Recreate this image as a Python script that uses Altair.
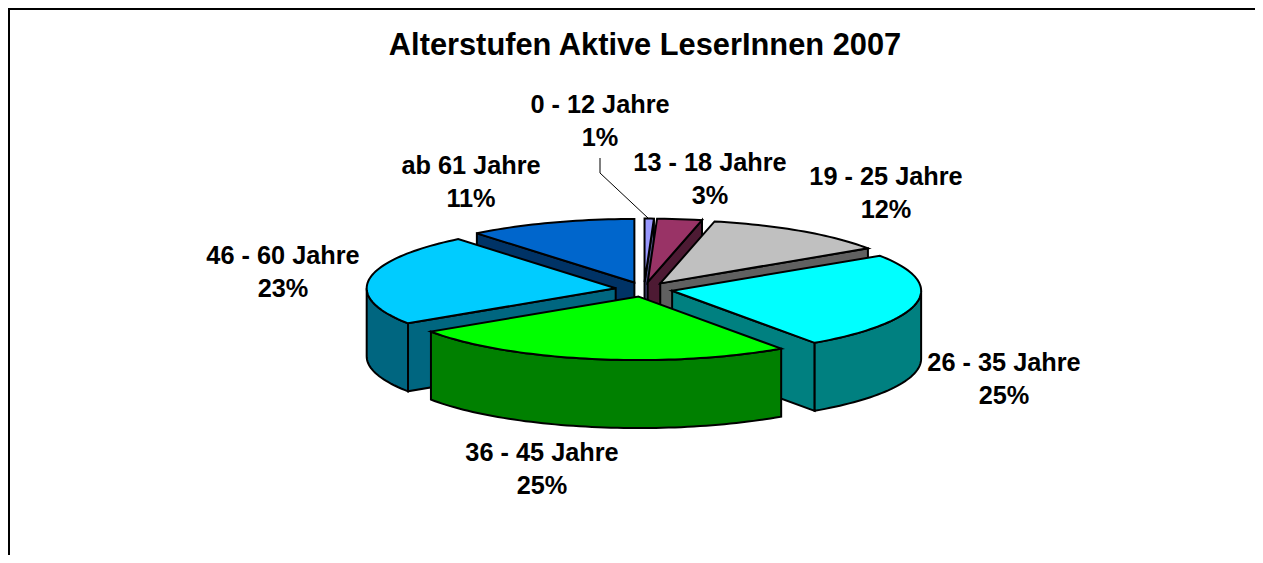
import numpy as np
import pandas as pd
import altair as alt

# Values (percent, unrounded estimates behind the printed labels)
categories = ["0 - 12 Jahre", "13 - 18 Jahre", "19 - 25 Jahre", "26 - 35 Jahre",
              "36 - 45 Jahre", "46 - 60 Jahre", "ab 61 Jahre"]
shares = [0.6, 2.9, 12.2, 24.6, 25.4, 23.4, 10.9]
top_colors = ["#9999FF", "#993366", "#C0C0C0", "#00FFFF", "#00FF00", "#00CCFF", "#0066CC"]
wall_colors = ["#4D4D80", "#4D1A33", "#606060", "#008080", "#008000", "#006680", "#003366"]
paint_order = [6, 0, 1, 2, 5, 3, 4]
label_x = [600, 710, 886, 1004, 542, 283, 471]
label_y = [105, 163, 177, 363, 453, 256, 166]
title_text = "Alterstufen Aktive LeserInnen 2007"
leader_x = [600, 600, 648]
leader_y = [158, 173, 218]

W, H = 1247, 547
CX, CY, A, B, DEPTH, EXPLODE = 644, 289.4, 249, 63.5, 68, 0.115
OX, OY = 8, 8   # page offset of the chart

xs = alt.Scale(domain=[OX, OX + W], range=[0, W])
ys = alt.Scale(domain=[OY, OY + H], range=[0, H])


def polygon(px, py, fill):
    df = pd.DataFrame({"px": px, "py": py, "i": range(len(px))})
    return alt.Chart(df).mark_line(
        interpolate="linear-closed", fill=fill, stroke="black", strokeWidth=2,
        strokeJoin="miter",
    ).encode(
        x=alt.X("px:Q", scale=xs, axis=None),
        y=alt.Y("py:Q", scale=ys, axis=None),
        order="i:Q",
    )


edges = np.concatenate([[0], np.cumsum(shares)]) / 100 * 2 * np.pi
layers = []
for k in paint_order:
    t1, t2 = edges[k], edges[k + 1]
    tm = (t1 + t2) / 2
    ax = CX + EXPLODE * A * np.sin(tm)
    ay = CY - EXPLODE * B * np.cos(tm)
    n = max(4, int((t2 - t1) * 40))
    ts = np.linspace(t1, t2, n)
    ex = ax + A * np.sin(ts)
    ey = ay - B * np.cos(ts)
    # radial wall that faces the viewer
    for t, visible in ((t1, np.sin(t1) < 0), (t2, np.sin(t2) > 0)):
        if visible:
            rx = ax + A * np.sin(t)
            ry = ay - B * np.cos(t)
            layers.append(polygon([ax, rx, rx, ax], [ay, ry, ry + DEPTH, ay + DEPTH], wall_colors[k]))
    # outer wall for the part of the rim at the front
    lo, hi = max(t1, np.pi / 2), min(t2, 3 * np.pi / 2)
    if hi > lo:
        tw = np.linspace(lo, hi, max(4, int((hi - lo) * 40)))
        wx = ax + A * np.sin(tw)
        wy = ay - B * np.cos(tw)
        layers.append(polygon(np.r_[wx, wx[::-1]], np.r_[wy, wy[::-1] + DEPTH], wall_colors[k]))
    # top face
    layers.append(polygon(np.r_[ax, ex], np.r_[ay, ey], top_colors[k]))

# frame on top and left
frame_h = pd.DataFrame({"px": [OX, OX + W], "py": [OY + 1, OY + 1]})
frame_v = pd.DataFrame({"px": [OX + 1, OX + 1], "py": [OY, OY + H]})
for f in (frame_h, frame_v):
    layers.append(alt.Chart(f).mark_line(color="black", strokeWidth=2).encode(
        x=alt.X("px:Q", scale=xs, axis=None), y=alt.Y("py:Q", scale=ys, axis=None)))

# leader line of the 1% label
leader = pd.DataFrame({"px": leader_x, "py": leader_y, "i": range(3)})
layers.append(alt.Chart(leader).mark_line(color="black", strokeWidth=1).encode(
    x=alt.X("px:Q", scale=xs, axis=None), y=alt.Y("py:Q", scale=ys, axis=None), order="i:Q"))

rows = []
for c, s, lx, ly in zip(categories, shares, label_x, label_y):
    rows.append({"t": c, "px": lx, "py": ly})
    rows.append({"t": f"{round(s)}%", "px": lx, "py": ly + 33})
labels = alt.Chart(pd.DataFrame(rows)).mark_text(
    font="Liberation Sans", fontWeight="bold", fontSize=25.3, color="black"
).encode(x=alt.X("px:Q", scale=xs, axis=None), y=alt.Y("py:Q", scale=ys, axis=None), text="t:N")
layers.append(labels)

title = alt.Chart(pd.DataFrame({"t": [title_text], "px": [645], "py": [45.5]})).mark_text(
    font="Liberation Sans", fontWeight="bold", fontSize=30.8, color="black"
).encode(x=alt.X("px:Q", scale=xs, axis=None), y=alt.Y("py:Q", scale=ys, axis=None), text="t:N")
layers.append(title)

chart = alt.layer(*layers).properties(
    width=W, height=H, padding=0, background="white",
    autosize=alt.AutoSizeParams(type="none"),
).configure_view(stroke=None)

chart.save("out.html", embed_options={"renderer": "svg", "actions": False})
